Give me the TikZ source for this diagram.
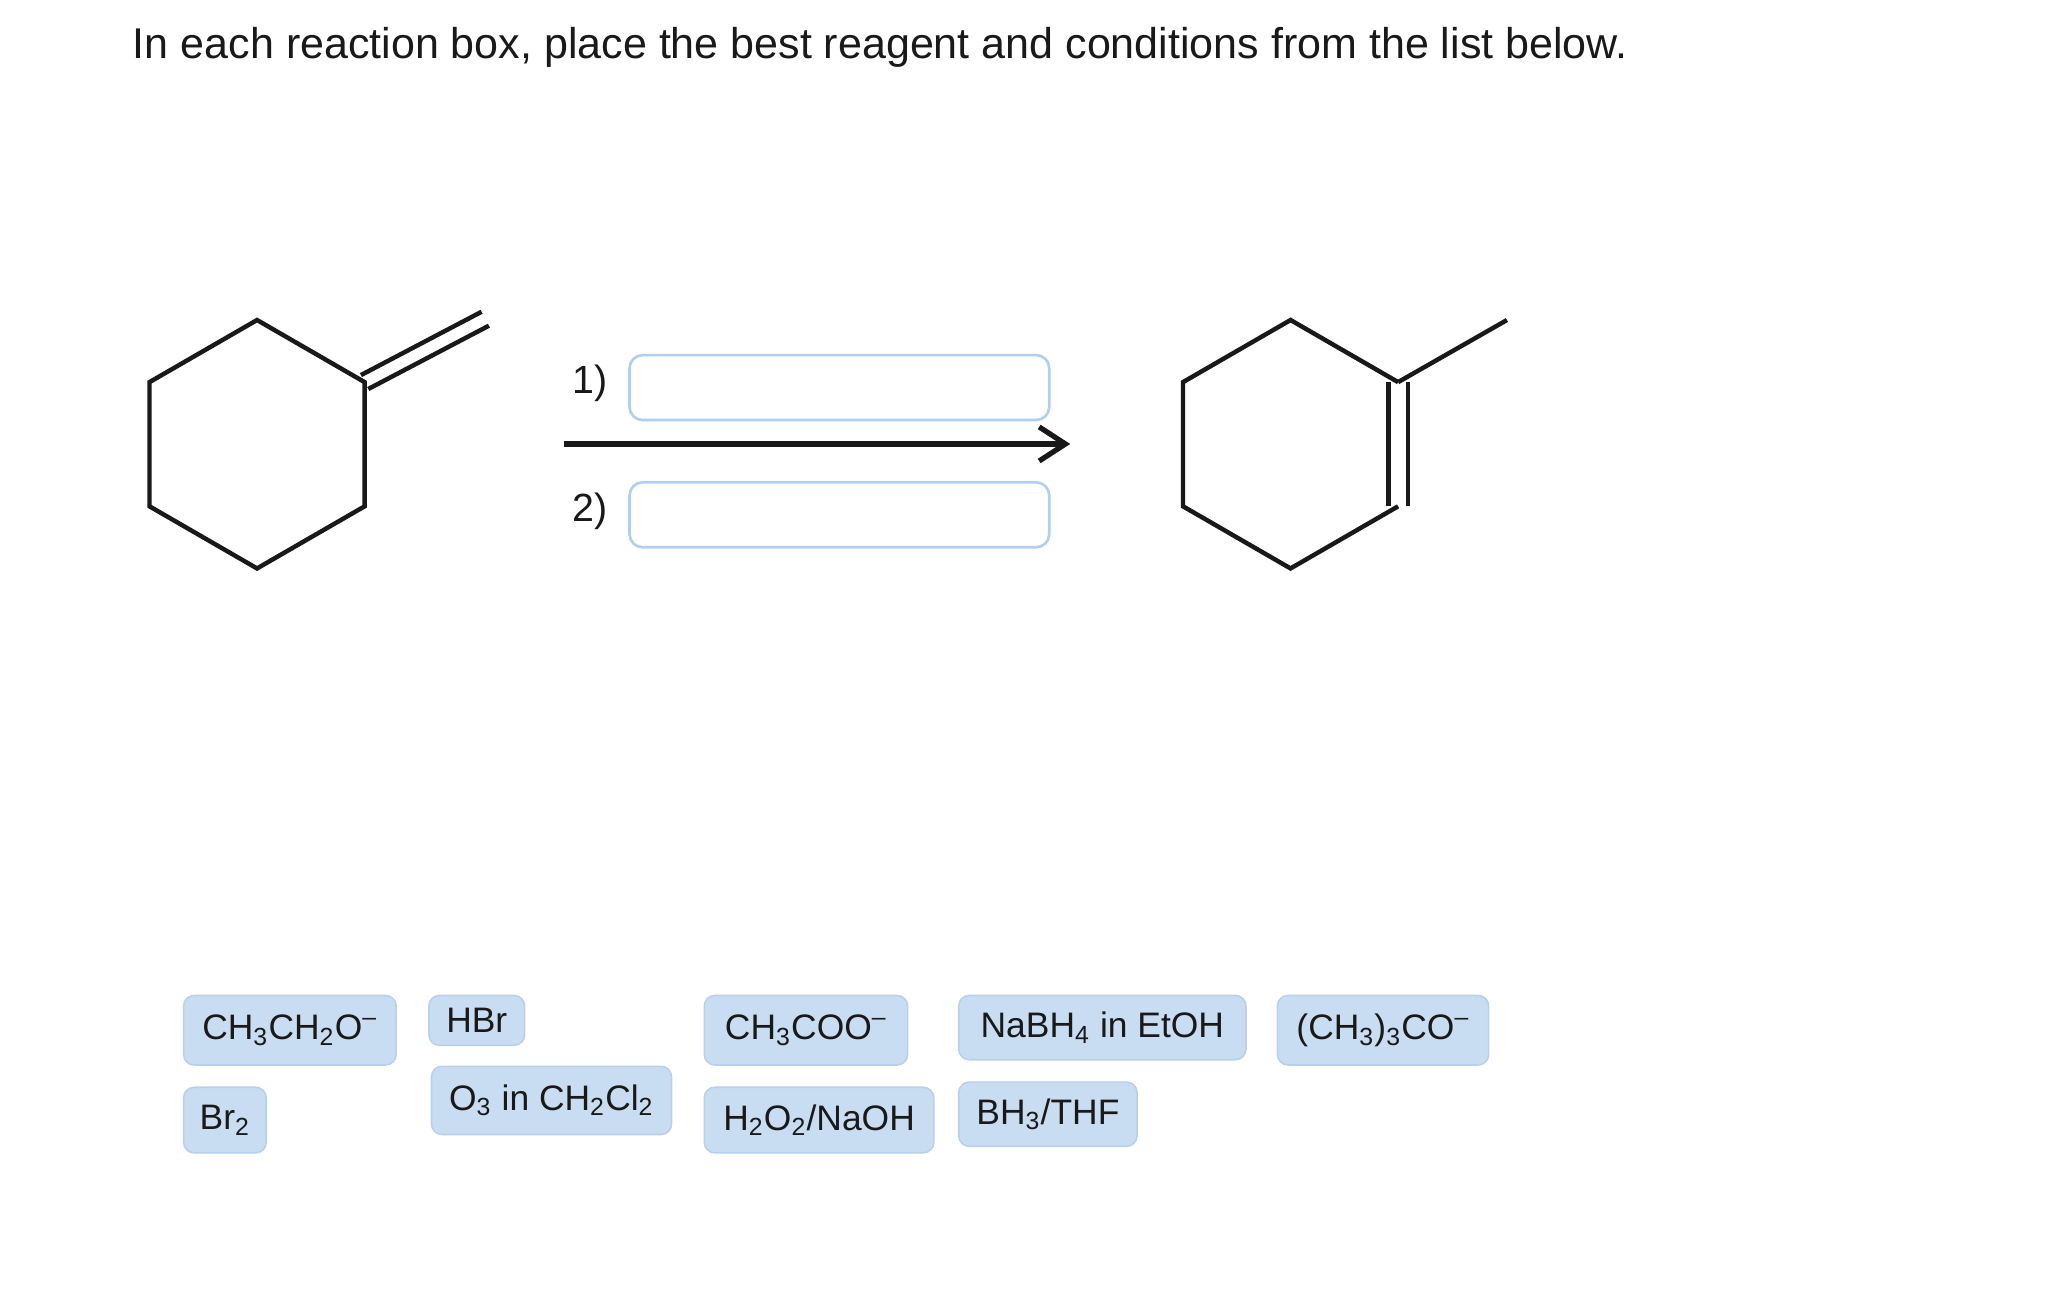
\documentclass[tikz,border=0pt]{standalone}
\usepackage{fontspec}
\setmainfont{Liberation Sans}
\usetikzlibrary{arrows.meta}
\definecolor{chipfill}{RGB}{201,221,242}
\definecolor{chipedge}{RGB}{186,208,234}
\definecolor{slotedge}{RGB}{178,206,240}
\definecolor{ink}{RGB}{25,25,25}
\newcommand{\chemsub}[1]{\textsubscript{#1}}
\newcommand{\chemneg}{\textsuperscript{–}}
\begin{document}
\begin{tikzpicture}[x=0.5pt,y=-0.5pt,
  chip/.style={draw=chipedge, line width=0.6pt, fill=chipfill, rounded corners=4pt,
    inner sep=0pt, font=\fontsize{13.5}{16}\selectfont, text=ink},
  slot/.style={draw=slotedge, line width=1pt, rounded corners=5pt, fill=white,
    inner sep=0pt, minimum width=160pt, minimum height=24.75pt},
  bond/.style={line width=1.7pt, draw=ink},
  rxnarrow/.style={line width=2pt, draw=ink,
    -{Straight Barb[length=10pt, width=13pt, line width=2pt]}},
  steplabel/.style={anchor=base west, inner sep=0pt, text=ink,
    font=\fontsize{15}{18}\selectfont}]
\useasboundingbox[fill=white] (0,0) rectangle (1560,987.4);

% title
\node[anchor=base west, inner sep=0pt, text=ink, font=\fontsize{16.4}{20}\selectfont]
  (title) at (101,44.5) {In each reaction box, place the best reagent and conditions from the list below.};

% left molecule: methylenecyclohexane
\coordinate (La) at (196,244);
\coordinate (Lb) at (278,291.35);
\coordinate (Lc) at (278,386.05);
\coordinate (Ld) at (196,433.4);
\coordinate (Le) at (114,386.05);
\coordinate (Lf) at (114,291.35);
\draw[bond] (Lb) -- (La) -- (Lf) -- (Le) -- (Ld) -- (Lc) -- cycle;
\coordinate (Lx1) at (275.2,286);
\coordinate (Ly1) at (367.2,237.7);
\coordinate (Lx2) at (280.8,296.6);
\coordinate (Ly2) at (372.8,248.3);
\draw[bond] (Lx1) -- (Ly1);
\draw[bond] (Lx2) -- (Ly2);

% arrow and slots
\coordinate (arrS) at (430,338.5);
\coordinate (arrE) at (816,338.5);
\draw[rxnarrow] (arrS) -- (arrE);
\node[slot] (slot1) at (640,295.5) {};
\node[slot] (slot2) at (640,392.5) {};
\node[steplabel] (lab1) at (436,300) {1)};
\node[steplabel] (lab2) at (436,397.5) {2)};

% right molecule: 1-methylcyclohexene
\coordinate (Ra) at (984,244);
\coordinate (Rb) at (1066,291.35);
\coordinate (Rc) at (1066,386.05);
\coordinate (Rd) at (984,433.4);
\coordinate (Re) at (902,386.05);
\coordinate (Rf) at (902,291.35);
\coordinate (Rme) at (1149,244);
\draw[bond] (Rb) -- (Ra) -- (Rf) -- (Re) -- (Rd) -- (Rc);
\coordinate (Rx1) at (1058.6,291.35);
\coordinate (Ry1) at (1058.6,386.05);
\coordinate (Rx2) at (1073.4,291.35);
\coordinate (Ry2) at (1073.4,386.05);
\draw[bond] (Rx1) -- (Ry1);
\draw[bond] (Rx2) -- (Ry2);
\draw[bond] (Rb) -- (Rme);

% reagent chips
\node[chip, minimum width=81pt, minimum height=26.5pt] (c1) at (221,785.5) {CH\chemsub{3}CH\chemsub{2}O\chemneg};
\node[chip, minimum width=36.5pt, minimum height=19pt] (c2) at (363.5,778) {HBr};
\node[chip, minimum width=77.5pt, minimum height=26.5pt] (c3) at (614.5,785.5) {CH\chemsub{3}COO\chemneg};
\node[chip, minimum width=109.5pt, minimum height=24.5pt] (c4) at (840.5,783.5) {NaBH\chemsub{4} in EtOH};
\node[chip, minimum width=80.5pt, minimum height=26.5pt] (c5) at (1054.5,785.5) {(CH\chemsub{3})\chemsub{3}CO\chemneg};
\node[chip, minimum width=31.5pt, minimum height=25pt] (c6) at (171.5,854) {Br\chemsub{2}};
\node[chip, minimum width=91.5pt, minimum height=26pt] (c7) at (420.5,839) {O\chemsub{3} in CH\chemsub{2}Cl\chemsub{2}};
\node[chip, minimum width=87.5pt, minimum height=25pt] (c8) at (624.5,854) {H\chemsub{2}O\chemsub{2}/NaOH};
\node[chip, minimum width=68pt, minimum height=24.5pt] (c9) at (799,849.5) {BH\chemsub{3}/THF};
\end{tikzpicture}
\end{document}
